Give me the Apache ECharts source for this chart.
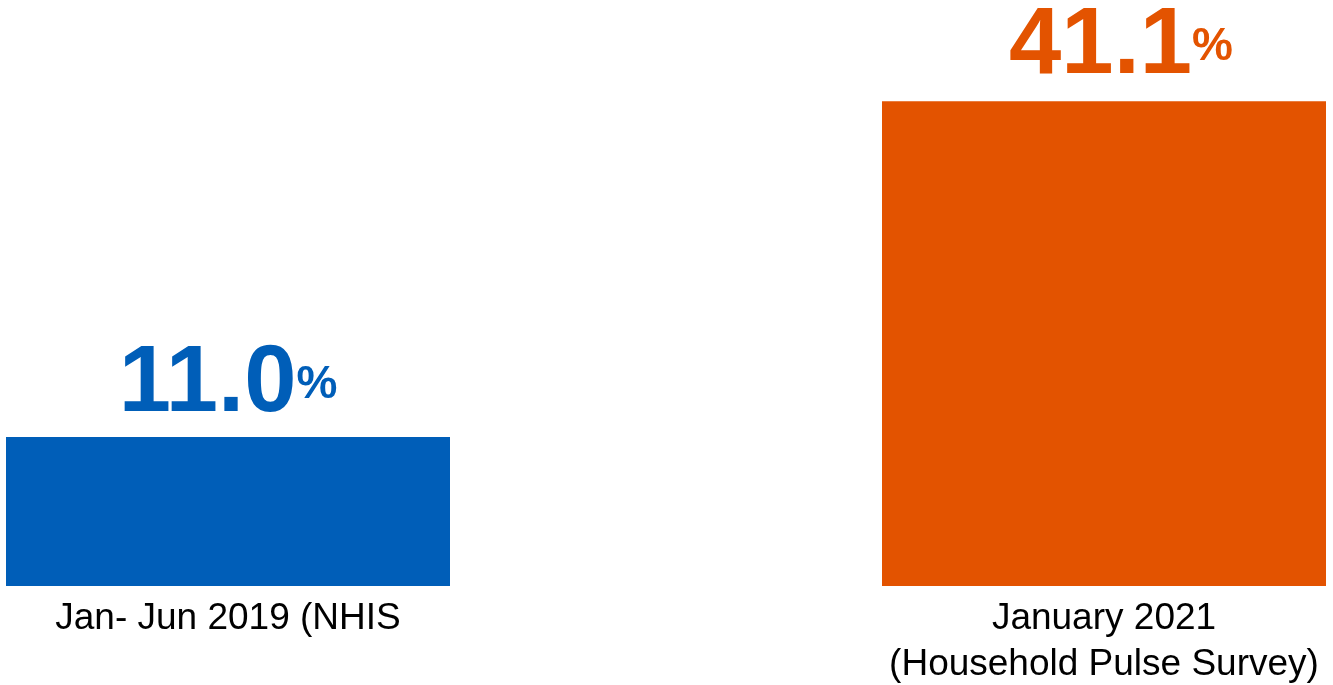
<!DOCTYPE html>
<html>
<head>
<meta charset="utf-8">
<script src="https://cdn.jsdelivr.net/npm/echarts@6/dist/echarts.min.js"></script>
<style>
  html, body { margin: 0; padding: 0; background: #fff; }
  #main { width: 1333px; height: 685px; }
</style>
</head>
<body>
<div id="main"></div>
<script>
var categories = ['Jan- Jun 2019 (NHIS', 'January 2021\n(Household Pulse Survey)'];
var values = [11.0, 41.1];
var barColors = ['#005EB8', '#E35300'];

var FONT = 'Liberation Sans, Arial, sans-serif';
// small per-bar nudges of the value label
var labelOffset = [[0, 0], [17, -2]];

var chart = echarts.init(document.getElementById('main'));

function renderBar(params, api) {
  var i = params.dataIndex;
  var v = api.value(1);
  var top = api.coord([api.value(0), v]);
  var bottom = params.coordSys.y + params.coordSys.height;
  var w = 444;
  return {
    type: 'rect',
    shape: { x: top[0] - w / 2, y: top[1], width: w, height: bottom - top[1] },
    style: { fill: barColors[i] },
    textContent: {
      style: {
        text: '{v|' + v.toFixed(1) + '}{p|%}',
        fill: barColors[i],
        rich: {
          v: { fontSize: 94, fontWeight: 'bold', lineHeight: 94, fontFamily: FONT, fill: barColors[i] },
          p: { fontSize: 46, fontWeight: 'bold', lineHeight: 94, fontFamily: FONT, fill: barColors[i] }
        }
      }
    },
    textConfig: { position: 'top', distance: 5, offset: labelOffset[i] }
  };
}

var option = {
  animation: false,
  grid: { left: -210, right: -209, top: 2, bottom: 99, containLabel: false, outerBoundsMode: 'none' },
  xAxis: {
    type: 'category',
    data: categories,
    axisLine: { show: false },
    axisTick: { show: false },
    axisLabel: {
      interval: 0,
      margin: 10,
      color: '#000',
      fontFamily: FONT,
      fontSize: 37,
      lineHeight: 46
    }
  },
  yAxis: {
    type: 'value',
    min: -2.35,
    max: 50,
    show: false,
    splitLine: { show: false }
  },
  series: [{
    type: 'custom',
    renderItem: renderBar,
    encode: { x: 0, y: 1 },
    data: values.map(function (v, i) { return [i, v]; })
  }]
};
chart.setOption(option);
window.addEventListener('resize', function () {
  chart.resize();
});
</script>
</body>
</html>
